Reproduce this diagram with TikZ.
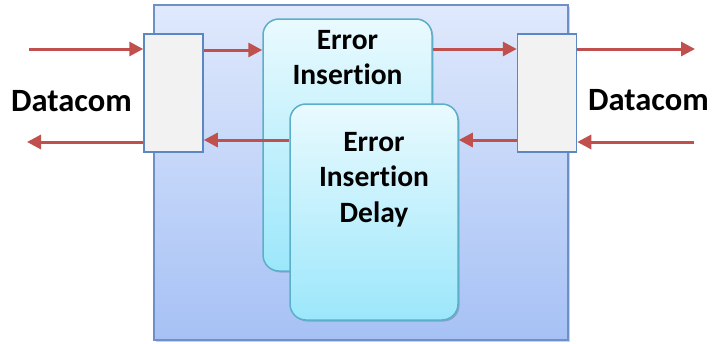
\documentclass[tikz,border=0pt]{standalone}
\usepackage{fontspec}
\setmainfont{Carlito}[Ligatures={NoCommon}]
\usetikzlibrary{arrows.meta}
\definecolor{bigtop}{HTML}{E0E9FC}
\definecolor{bigbot}{HTML}{A6C1F5}
\definecolor{bigline}{HTML}{6F90C6}
\definecolor{smallfill}{HTML}{F2F2F2}
\definecolor{smallline}{HTML}{5B87C2}
\definecolor{rtop}{HTML}{E9FAFE}
\definecolor{rbot}{HTML}{9CE7FB}
\definecolor{rline}{HTML}{5BAFC9}
\definecolor{arrred}{HTML}{C0504D}
\begin{document}
\begin{tikzpicture}[x=1pt,y=-1pt,
  bigbox/.style={draw=bigline,line width=1.5pt,top color=bigtop,bottom color=bigbot,inner sep=0pt},
  smallbox/.style={draw=smallline,line width=1.5pt,fill=smallfill,inner sep=0pt,minimum width=59pt,minimum height=118pt},
  errbox/.style={draw=rline,line width=1.5pt,top color=rtop,bottom color=rbot,rounded corners=16pt,inner sep=0pt},
  shadowbox/.style={fill=black,opacity=0.18,inner sep=0pt,draw=none},
  flow/.style={draw=arrred,line width=3pt,-{Triangle[length=14pt,width=14pt]}},
  lbl/.style={font=\fontsize{29.5}{35.5}\selectfont\bfseries,align=center,inner sep=0pt,text=black},
  dlbl/.style={font=\fontsize{32.5}{37}\selectfont\bfseries,inner sep=0pt,text=black,anchor=base west}]
\useasboundingbox (0,0) rectangle (712,343);
% main box
\node[shadowbox,minimum width=414pt,minimum height=335pt] at (362.5,174) {};
\node[bigbox,minimum width=414pt,minimum height=335pt] (main) at (361,172.5) {};
% error insertion boxes
\node[shadowbox,rounded corners=16pt,minimum width=169pt,minimum height=252pt] at (349,146.5) {};
\node[errbox,minimum width=169pt,minimum height=252pt] (eins) at (347.5,145) {};
\node[shadowbox,rounded corners=16pt,minimum width=168pt,minimum height=216pt] at (375.5,213.5) {};
\node[errbox,minimum width=168pt,minimum height=216pt] (edel) at (374,212) {};
% interface boxes
\node[smallbox] (lbox) at (173.5,93) {};
\node[smallbox] (rbox) at (547,93) {};
% labels
\node[lbl,anchor=north] (einsl) at (347.5,30) {Error\\Insertion};
\node[lbl,anchor=north] (edell) at (374,132) {Error\\Insertion\\Delay};
\node[dlbl] (dl) at (11,111) {Datacom};
\node[dlbl] (dr) at (588,110) {Datacom};
% free ends
\coordinate (inL) at (29,49);
\coordinate (outR) at (695,49);
\coordinate (inR) at (694,142);
\coordinate (outL) at (27,142);
% arrows
\draw[flow] (inL) -- (lbox.west |- inL);
\draw[flow] (lbox.east |- 0,50) -- (eins.west |- 0,50);
\draw[flow] (eins.east |- 0,49) -- (rbox.west |- 0,49);
\draw[flow] (rbox.east |- outR) -- (outR);
\draw[flow] (inR) -- (rbox.east |- inR);
\draw[flow] (rbox.west |- 0,140) -- (edel.east |- 0,140);
\draw[flow] (edel.west |- 0,140) -- (lbox.east |- 0,140);
\draw[flow] (lbox.west |- outL) -- (outL);
\end{tikzpicture}
\end{document}
